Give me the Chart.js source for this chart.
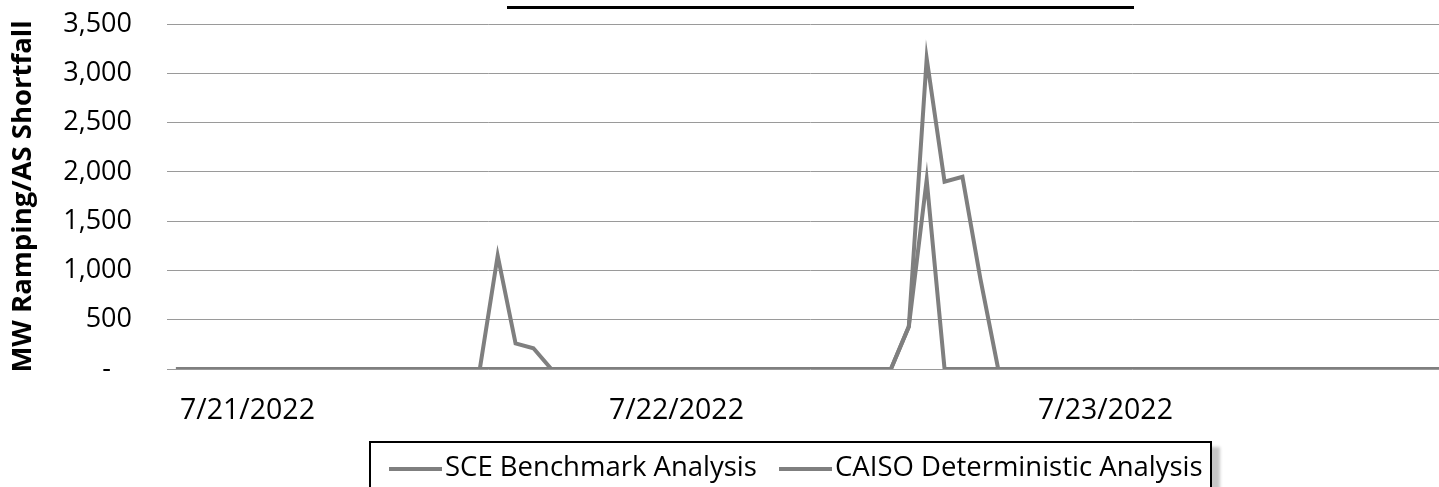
<!DOCTYPE html>
<html>
<head>
<meta charset="utf-8">
<script src="https://cdn.jsdelivr.net/npm/chart.js@4.4.1/dist/chart.umd.min.js"></script>
<style>
  html, body { margin: 0; padding: 0; background: #fff; overflow: hidden; }
  #wrap { position: relative; width: 1439px; height: 487px; overflow: hidden; }
  #chart { position: absolute; left: 0; top: 0; }
  #topline { position: absolute; left: 507px; top: 6px; width: 627px; height: 3px; background: #000; }
  #legend {
    position: absolute; left: 369px; top: 441px; width: 839px; height: 70px;
    border: 2px solid #000; background: #fff;
    box-shadow: 8px 6px 3px rgba(0,0,0,0.22);
    font-family: "Open Sans", sans-serif; font-size: 27.5px; color: #000;
  }
  .item { position: absolute; top: 6px; height: 34px; line-height: 34px; white-space: nowrap; }
  .swatch { display: inline-block; width: 53px; height: 0; border-top: 4px solid #7f7f7f; vertical-align: middle; margin-right: 3px; }
</style>
</head>
<body>
<div id="wrap">
  <canvas id="chart" width="1454" height="487"></canvas>
  <div id="topline"></div>
  <div id="legend"></div>
</div>
<script>
// podatki z grafa (urne vrednosti, 3 dni)
const dnevi = ["7/21/2022", "7/22/2022", "7/23/2022"];
const ure = [1, 2, 3, 4, 5, 6, 7, 8, 9, 10, 11, 12, 13, 14, 15, 16, 17, 18, 19, 20, 21, 22, 23, 24];
const uraOznake = 4; // pri kateri uri je izpisan datum

const imenaSerij = ["SCE Benchmark Analysis", "CAISO Deterministic Analysis"];

const sceVrednosti = [
  0, 0, 0, 0, 0, 0, 0, 0, 0, 0, 0, 0, 0, 0, 0, 0, 0, 0, 1150, 260, 210, 0, 0, 0,
  0, 0, 0, 0, 0, 0, 0, 0, 0, 0, 0, 0, 0, 0, 0, 0, 0, 430, 3150, 1900, 1950, 920, 0, 0,
  0, 0, 0, 0, 0, 0, 0, 0, 0, 0, 0, 0, 0, 0, 0, 0, 0, 0, 0, 0, 0, 0, 0, 0
];
const caisoVrednosti = [
  0, 0, 0, 0, 0, 0, 0, 0, 0, 0, 0, 0, 0, 0, 0, 0, 0, 0, 0, 0, 0, 0, 0, 0,
  0, 0, 0, 0, 0, 0, 0, 0, 0, 0, 0, 0, 0, 0, 0, 0, 0, 430, 1920, 0, 0, 0, 0, 0,
  0, 0, 0, 0, 0, 0, 0, 0, 0, 0, 0, 0, 0, 0, 0, 0, 0, 0, 0, 0, 0, 0, 0, 0
];

const yTicki = [0, 500, 1000, 1500, 2000, 2500, 3000, 3500];

const barvaCrte = "#7f7f7f";

let labele = [];
dnevi.forEach((d) => {
  ure.forEach((u) => labele.push(d + " " + u + ":00"));
});

// legenda v html (z okvirjem kot v excelu)
const legendaDiv = document.getElementById("legend");
const zamiki = [18, 408];
imenaSerij.forEach((ime, i) => {
  const el = document.createElement("div");
  el.className = "item";
  el.style.left = zamiki[i] + "px";
  el.innerHTML = '<span class="swatch"></span>' + ime;
  legendaDiv.appendChild(el);
});

const ctx = document.getElementById("chart").getContext("2d");
new Chart(ctx, {
  type: "line",
  data: {
    labels: labele,
    datasets: [
      {
        label: imenaSerij[0],
        data: sceVrednosti,
        borderColor: barvaCrte,
        borderWidth: 4,
        pointRadius: 0,
        tension: 0,
        fill: false,
      },
      {
        label: imenaSerij[1],
        data: caisoVrednosti,
        borderColor: barvaCrte,
        borderWidth: 4,
        pointRadius: 0,
        tension: 0,
        fill: false,
      },
    ],
  },
  options: {
    responsive: false,
    animation: false,
    layout: { padding: { left: 7, top: 24, right: 0, bottom: 62 } },
    plugins: {
      legend: { display: false },
      tooltip: { enabled: false },
    },
    scales: {
      x: {
        type: "category",
        offset: true,
        afterFit: (s) => {
          s.height = 56;
          s.paddingLeft = 0;
          s.paddingRight = 0;
        },
        grid: { display: false, drawTicks: false },
        border: { display: false },
        ticks: {
          autoSkip: false,
          maxRotation: 0,
          minRotation: 0,
          padding: 25,
          color: "#000",
          font: { family: "Open Sans", size: 28.5 },
          callback: function (val, i) {
            if (i % ure.length === uraOznake) return dnevi[Math.floor(i / ure.length)];
            return "";
          },
        },
      },
      y: {
        min: 0,
        max: 3500,
        afterBuildTicks: (s) => {
          s.ticks = yTicki.map((v) => ({ value: v }));
        },
        afterFit: (s) => {
          s.width = 160;
          s.paddingTop = 10;
          s.paddingBottom = 10;
        },
        grid: { color: "#9a9a9a", lineWidth: 1, drawTicks: false },
        border: { display: false },
        ticks: {
          padding: 35,
          color: "#000",
          font: { family: "Open Sans", size: 27 },
          callback: (v) => (v === 0 ? "-   " : v.toLocaleString("en-US")),
        },
        title: {
          display: true,
          text: "MW Ramping/AS Shortfall",
          color: "#000",
          padding: 0,
          font: { family: "Open Sans", size: 27.5, weight: "bold" },
        },
      },
    },
  },
});
</script>
</body>
</html>
